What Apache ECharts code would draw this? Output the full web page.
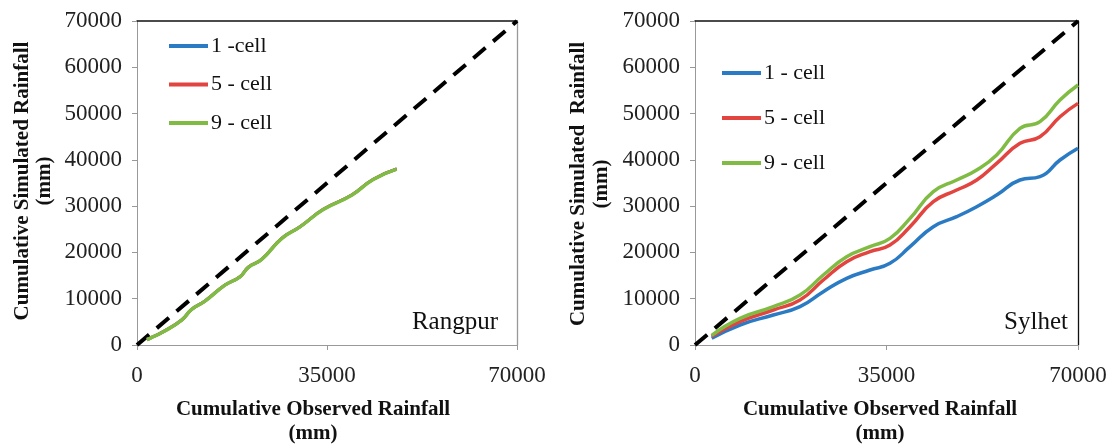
<!DOCTYPE html>
<html>
<head>
<meta charset="utf-8">
<script src="https://cdn.jsdelivr.net/npm/echarts@6/dist/echarts.min.js"></script>
<style>html,body{margin:0;padding:0;background:#fff;}#c{width:1110px;height:444px;}</style>
</head>
<body>
<div id="c"></div>
<script>
// ---- Data ----
const xTicks = [0, 35000, 70000];
const diagonal = [[0, 0], [70000, 70000]];

// Rangpur (cumulative observed, mm)
const rangpurObs = [1800, 2390, 4850, 8230, 10070, 12530, 16210, 18970, 20510, 22970, 26650, 30030, 34320, 39550, 43530, 47840];
const rangpur1 = [1200, 1450, 2880, 5400, 7700, 9510, 12960, 14760, 16790, 18510, 23050, 25560, 29310, 32400, 35800, 38020];
const rangpur5 = [1200, 1450, 2880, 5400, 7700, 9510, 12960, 14760, 16790, 18510, 23050, 25560, 29310, 32400, 35800, 38020];
const rangpur9 = [1200, 1450, 2860, 5380, 7680, 9490, 12930, 14730, 16760, 18490, 23000, 25520, 29270, 32360, 35760, 38000];

// Sylhet (cumulative observed, mm)
const sylhetObs = [3050, 8220, 14310, 19190, 23450, 27720, 31980, 35640, 39300, 43560, 47830, 51490, 55140, 59400, 63050, 66710, 70000];
const sylhet1 = [1440, 4320, 6480, 8280, 11520, 14400, 16200, 17650, 21240, 25560, 27720, 29880, 32400, 35650, 36360, 39970, 42500];
const sylhet5 = [1870, 5040, 7560, 9720, 14040, 18000, 20160, 21600, 25560, 30960, 33480, 35640, 39250, 43570, 45000, 49320, 52200];
const sylhet9 = [2100, 5760, 8280, 10800, 15120, 19080, 21240, 23040, 27360, 33120, 35650, 37800, 41050, 46810, 48250, 52930, 56170];

const namesL = ['1 -cell', '5 - cell', '9 - cell'];
const namesR = ['1 - cell', '5 - cell', '9 - cell'];
const colors = ['#2b7bc4', '#e2443f', '#80bb44'];

function pairs(xs, ys) { return xs.map((x, i) => [x, ys[i]]); }

const FONT = '"Liberation Serif","Times New Roman",serif';
const tickColor = '#999';
const plain = v => String(v);

function xAx(gi) {
  return {
    type: 'value', gridIndex: gi, min: 0, max: 70000, interval: 35000,
    axisLine: {show: true, lineStyle: {color: tickColor, width: 1}},
    axisTick: {show: true, length: 5, inside: false, lineStyle: {color: tickColor}},
    axisLabel: {fontFamily: FONT, fontSize: 23, color: '#222', margin: 19, formatter: plain},
    splitLine: {show: false}
  };
}
function xTop(gi) {
  return {
    type: 'value', gridIndex: gi, position: 'top', min: 0, max: 70000,
    axisLine: {show: true, onZero: false, lineStyle: {color: '#111', width: 1.5}},
    axisTick: {show: false}, axisLabel: {show: false}, splitLine: {show: false}
  };
}
function yAx(gi) {
  return {
    type: 'value', gridIndex: gi, min: 0, max: 70000, interval: 10000,
    axisLine: {show: true, lineStyle: {color: tickColor, width: 1}},
    axisTick: {show: true, length: 5, lineStyle: {color: tickColor}},
    axisLabel: {fontFamily: FONT, fontSize: 23, color: '#222', margin: 15, formatter: plain},
    splitLine: {show: false}
  };
}
function yRight(gi, col) {
  return {
    type: 'value', gridIndex: gi, position: 'right', min: 0, max: 70000,
    axisLine: {show: true, onZero: false, lineStyle: {color: col, width: 1.3}},
    axisTick: {show: false}, axisLabel: {show: false}, splitLine: {show: false}
  };
}

function lineSeries(name, xi, yi, data, color, w) {
  return {
    name: name, type: 'line', xAxisIndex: xi, yAxisIndex: yi, data: data,
    smooth: true, showSymbol: false, symbol: 'none',
    lineStyle: {color: color, width: w}, itemStyle: {color: color}, z: 3
  };
}
function diagSeries(xi, yi) {
  return {
    type: 'line', xAxisIndex: xi, yAxisIndex: yi, data: diagonal, symbol: 'none',
    lineStyle: {color: '#000', width: 4, type: [16, 10]}, z: 2, silent: true
  };
}

const option = {
  animation: false,
  backgroundColor: '#fff',
  grid: [
    {left: 137, top: 21, width: 380, height: 324},
    {left: 695, top: 21, width: 383, height: 324}
  ],
  xAxis: [xAx(0), xAx(1), xTop(0), xTop(1)],
  yAxis: [yAx(0), yAx(1), yRight(0, '#999'), yRight(1, '#111')],
  legend: [
    {data: namesL, left: 169, top: 35, orient: 'vertical', padding: 0, itemGap: 16.5,
     icon: 'rect', itemWidth: 39, itemHeight: 4, selectedMode: false,
     textStyle: {fontFamily: FONT, fontSize: 22, color: '#111', lineHeight: 22, padding: [0, 0, 0, -2]}},
    {data: namesR, left: 722, top: 62, orient: 'vertical', padding: 0, itemGap: 23,
     icon: 'rect', itemWidth: 39, itemHeight: 4, selectedMode: false,
     textStyle: {fontFamily: FONT, fontSize: 22, color: '#111', lineHeight: 22, padding: [0, 0, 0, -2]}}
  ],
  series: [
    diagSeries(0, 0),
    lineSeries(namesL[0], 0, 0, pairs(rangpurObs, rangpur1), colors[0], 3),
    lineSeries(namesL[1], 0, 0, pairs(rangpurObs, rangpur5), colors[1], 3),
    lineSeries(namesL[2], 0, 0, pairs(rangpurObs, rangpur9), colors[2], 3.5),
    diagSeries(1, 1),
    lineSeries(namesR[0], 1, 1, pairs(sylhetObs, sylhet1), colors[0], 3.5),
    lineSeries(namesR[1], 1, 1, pairs(sylhetObs, sylhet5), colors[1], 3.5),
    lineSeries(namesR[2], 1, 1, pairs(sylhetObs, sylhet9), colors[2], 3.5)
  ],
  graphic: [
    {type: 'text', x: 23, y: 181, rotation: Math.PI / 2, style: {text: 'Cumulative Simulated Rainfall', font: 'bold 21px ' + FONT, fill: '#111', align: 'center', verticalAlign: 'middle'}},
    {type: 'text', x: 45, y: 181, rotation: Math.PI / 2, style: {text: '(mm)', font: 'bold 21px ' + FONT, fill: '#111', align: 'center', verticalAlign: 'middle'}},
    {type: 'text', x: 313, y: 410, style: {text: 'Cumulative Observed Rainfall', font: 'bold 21px ' + FONT, fill: '#111', align: 'center', verticalAlign: 'middle'}},
    {type: 'text', x: 313, y: 434, style: {text: '(mm)', font: 'bold 21px ' + FONT, fill: '#111', align: 'center', verticalAlign: 'middle'}},
    {type: 'text', x: 579, y: 184, rotation: Math.PI / 2, style: {text: 'Cumulative Simulated  Rainfall', font: 'bold 21px ' + FONT, fill: '#111', align: 'center', verticalAlign: 'middle'}},
    {type: 'text', x: 602, y: 184, rotation: Math.PI / 2, style: {text: '(mm)', font: 'bold 21px ' + FONT, fill: '#111', align: 'center', verticalAlign: 'middle'}},
    {type: 'text', x: 880, y: 410, style: {text: 'Cumulative Observed Rainfall', font: 'bold 21px ' + FONT, fill: '#111', align: 'center', verticalAlign: 'middle'}},
    {type: 'text', x: 880, y: 434, style: {text: '(mm)', font: 'bold 21px ' + FONT, fill: '#111', align: 'center', verticalAlign: 'middle'}},
    {type: 'text', x: 498, y: 322, style: {text: 'Rangpur', font: '25px ' + FONT, fill: '#111', align: 'right', verticalAlign: 'middle'}},
    {type: 'text', x: 1068, y: 322, style: {text: 'Sylhet', font: '25px ' + FONT, fill: '#111', align: 'right', verticalAlign: 'middle'}}
  ]
};

const chart = echarts.init(document.getElementById('c'), null, {renderer: 'canvas'});
chart.setOption(option);
</script>
</body>
</html>
